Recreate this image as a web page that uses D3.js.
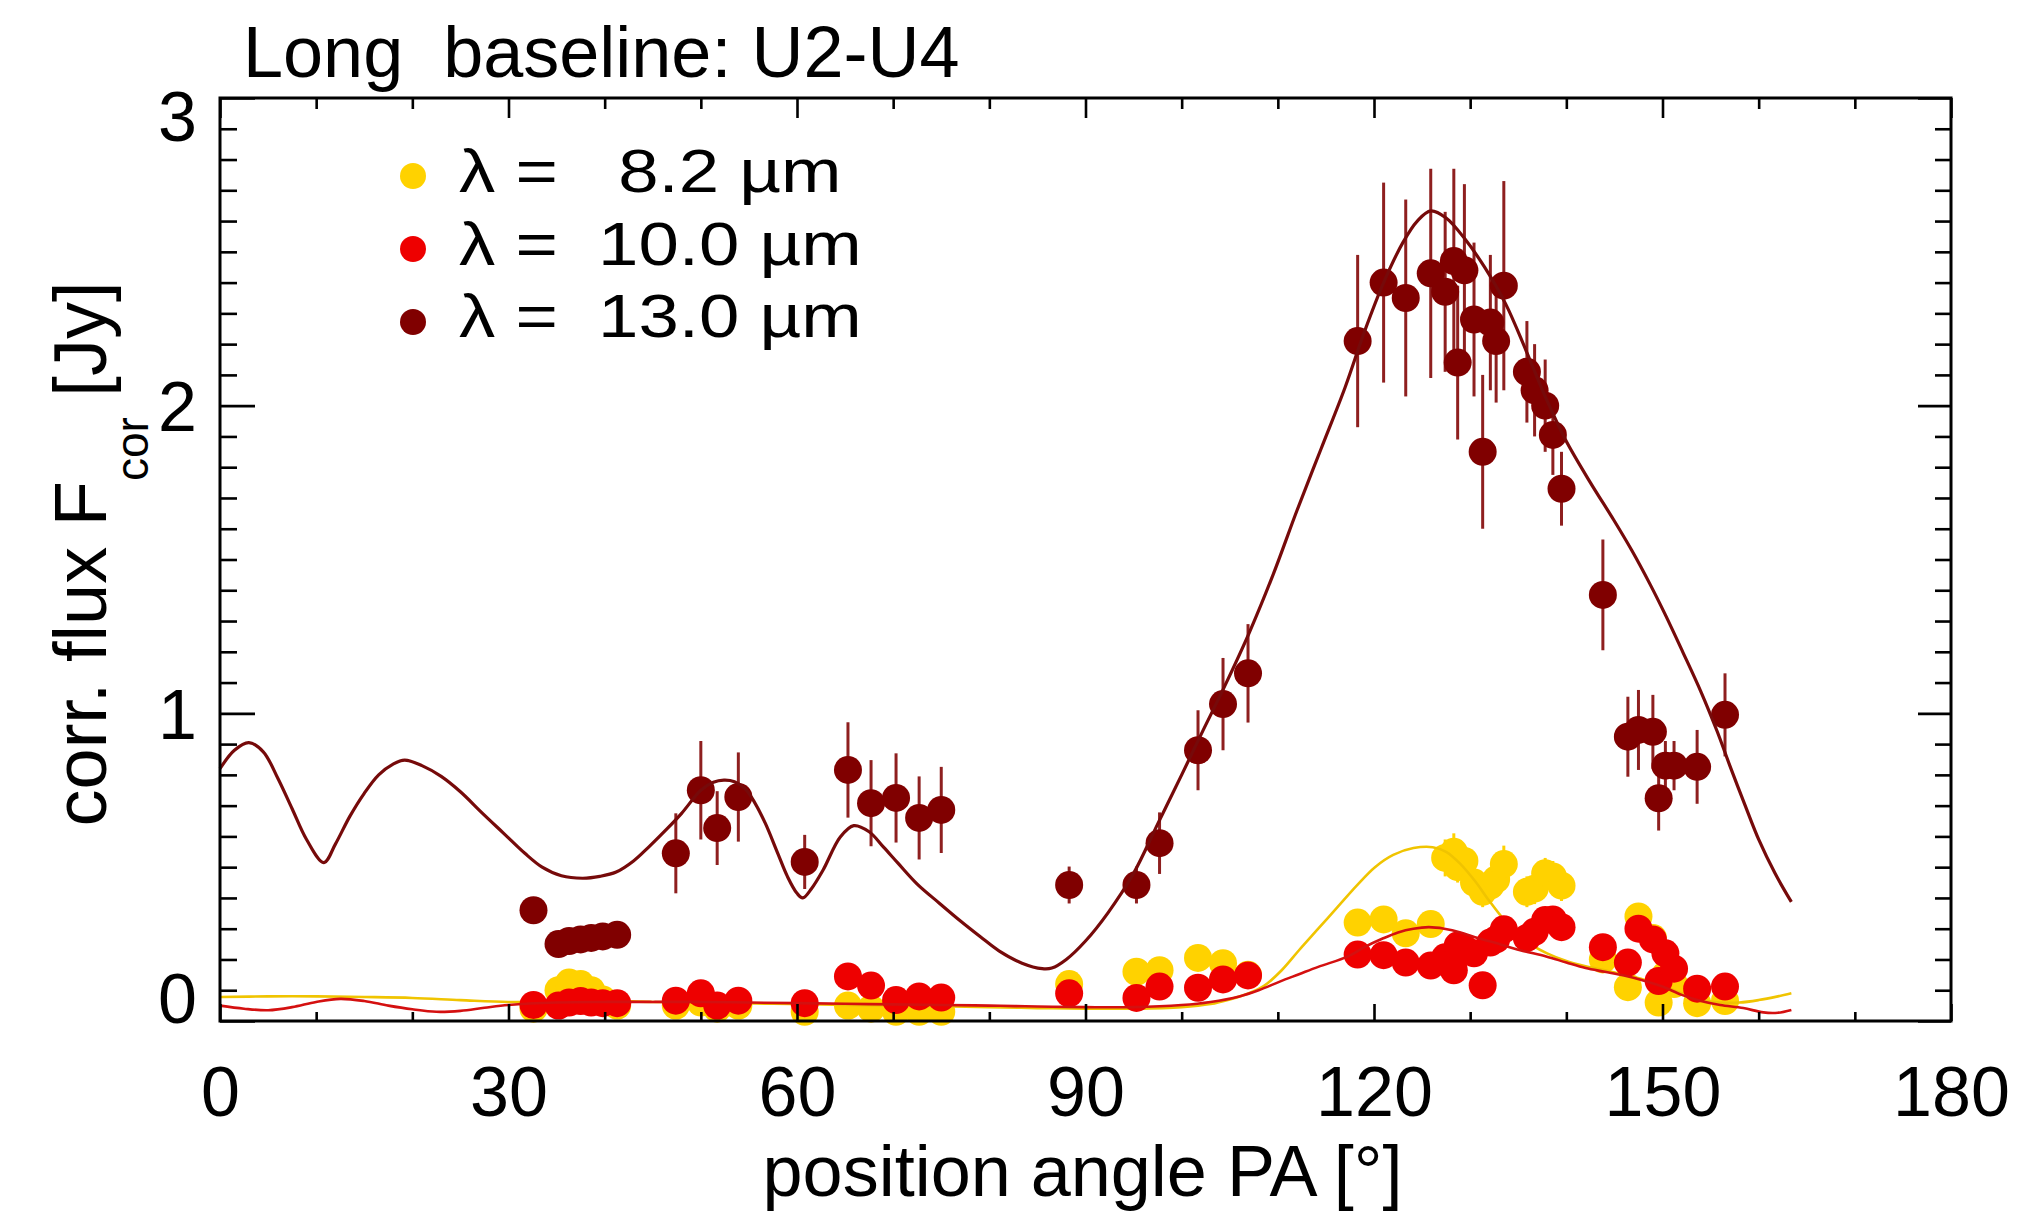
<!DOCTYPE html>
<html>
<head>
<meta charset="utf-8">
<script src="https://cdn.jsdelivr.net/npm/d3@7"></script>
<style>
  html, body { margin: 0; padding: 0; background: #fff; }
  svg { display: block; font-family: "Liberation Sans", Arial, Helvetica, sans-serif; }
</style>
</head>
<body>
<svg id="chart" width="2043" height="1211"></svg>
<script>
// Observed position angles [deg] shared by the three wavelengths
const positionAngle = [32.6, 35.2, 36.3, 37.5, 38.6, 39.8, 41.3, 47.4, 50.0, 51.7, 53.9, 60.8, 65.3, 67.7, 70.3, 72.7, 75.0,
  88.3, 95.3, 97.7, 101.7, 104.3, 106.9, 118.3, 121.0, 123.3, 125.9, 127.4, 128.3, 128.7, 129.4, 130.4, 131.3, 132.1,
  132.7, 133.5, 135.9, 136.7, 137.8, 138.6, 139.5, 143.8, 146.4, 147.5, 149.0, 149.6, 150.3, 151.2, 153.6, 156.5];

// Correlated flux [Jy] and 1-sigma errors, 8.2 um
const flux82 = [0.04, 0.10, 0.125, 0.12, 0.10, 0.07, 0.05, 0.05, 0.06, 0.04, 0.05, 0.03, 0.05, 0.04, 0.03, 0.03, 0.03,
  0.12, 0.16, 0.165, 0.205, 0.188, 0.15, 0.32, 0.33, 0.285, 0.315, 0.53, 0.55, 0.50, 0.52, 0.45, 0.42, 0.44,
  0.46, 0.51, 0.42, 0.43, 0.48, 0.47, 0.44, 0.20, 0.11, 0.34, 0.27, 0.06, 0.15, 0.12, 0.058, 0.065];
const err82 = [0.02, 0.03, 0.03, 0.03, 0.02, 0.02, 0.02, 0.02, 0.02, 0.02, 0.02, 0.02, 0.02, 0.02, 0.02, 0.02, 0.02,
  0.025, 0.03, 0.03, 0.03, 0.03, 0.03, 0.04, 0.04, 0.04, 0.04, 0.06, 0.06, 0.05, 0.05, 0.05, 0.05, 0.05,
  0.05, 0.06, 0.05, 0.05, 0.05, 0.05, 0.05, 0.04, 0.03, 0.04, 0.04, 0.02, 0.03, 0.03, 0.02, 0.02];

// 10.0 um
const flux100 = [0.052, 0.05, 0.06, 0.065, 0.06, 0.058, 0.058, 0.066, 0.09, 0.05, 0.066, 0.058, 0.145, 0.115, 0.068, 0.08, 0.076,
  0.09, 0.075, 0.112, 0.108, 0.135, 0.148, 0.216, 0.214, 0.19, 0.18, 0.207, 0.165, 0.245, 0.235, 0.22, 0.116, 0.255,
  0.265, 0.298, 0.27, 0.29, 0.328, 0.33, 0.305, 0.24, 0.19, 0.30, 0.265, 0.13, 0.22, 0.17, 0.105, 0.112];
const err100 = [0.02, 0.02, 0.02, 0.02, 0.02, 0.02, 0.02, 0.02, 0.025, 0.02, 0.02, 0.02, 0.03, 0.025, 0.02, 0.02, 0.02,
  0.02, 0.02, 0.025, 0.025, 0.025, 0.025, 0.03, 0.03, 0.03, 0.03, 0.03, 0.03, 0.03, 0.03, 0.03, 0.03, 0.03,
  0.03, 0.03, 0.03, 0.03, 0.03, 0.03, 0.03, 0.03, 0.03, 0.03, 0.03, 0.025, 0.025, 0.025, 0.02, 0.02];

// 13.0 um
const flux130 = [0.36, 0.25, 0.26, 0.265, 0.27, 0.275, 0.28, 0.545, 0.75, 0.627, 0.728, 0.517, 0.816, 0.708, 0.725, 0.66, 0.686,
  0.442, 0.442, 0.578, 0.88, 1.03, 1.13, 2.21, 2.40, 2.35, 2.43, 2.37, 2.47, 2.14, 2.44, 2.28, 1.85, 2.27,
  2.21, 2.39, 2.11, 2.05, 2.00, 1.905, 1.73, 1.385, 0.924, 0.946, 0.94, 0.724, 0.83, 0.83, 0.826, 0.995];
const err130 = [0.02, 0.02, 0.02, 0.02, 0.02, 0.02, 0.02, 0.13, 0.16, 0.12, 0.145, 0.088, 0.155, 0.14, 0.145, 0.135, 0.14,
  0.06, 0.06, 0.1, 0.13, 0.15, 0.16, 0.28, 0.325, 0.32, 0.34, 0.26, 0.3, 0.25, 0.28, 0.25, 0.25, 0.22,
  0.2, 0.34, 0.165, 0.15, 0.15, 0.13, 0.12, 0.18, 0.13, 0.13, 0.12, 0.105, 0.08, 0.08, 0.12, 0.135];

// Model curves: [position angle, flux]
const model82 = [[0,0.078],[5,0.08],[10,0.08],[15,0.078],[20,0.075],[25,0.068],[30,0.062],[35,0.065],[40,0.066],
  [45,0.062],[50,0.06],[55,0.057],[60,0.055],[65,0.052],[70,0.05],[75,0.048],[80,0.045],[85,0.042],[90,0.04],
  [95,0.04],[100,0.045],[103,0.055],[105,0.07],[107,0.09],[108.6,0.115],[110.4,0.165],[112.2,0.23],[114.2,0.30],
  [116.2,0.37],[118.2,0.44],[120.1,0.50],[122,0.54],[124.1,0.562],[126.1,0.565],[127.5,0.55],[129,0.51],
  [130.5,0.455],[132,0.39],[133.5,0.33],[135,0.28],[136.5,0.245],[138,0.22],[140,0.195],[142,0.178],[144,0.165],
  [146,0.15],[148,0.135],[150,0.115],[152,0.09],[154,0.07],[156,0.06],[158,0.06],[160,0.068],[162,0.08],[163.4,0.09]];

const model100 = [[0,0.05],[2.5,0.04],[5,0.035],[7.5,0.045],[10,0.062],[12.5,0.072],[15,0.065],[17.5,0.05],[20,0.038],
  [22.5,0.03],[25,0.033],[27.5,0.043],[30,0.052],[35,0.06],[40,0.062],[45,0.062],[50,0.062],[55,0.06],[60,0.058],
  [65,0.056],[70,0.054],[75,0.052],[80,0.05],[85,0.047],[90,0.045],[95,0.045],[100,0.052],[103,0.062],[106,0.08],
  [108,0.1],[110.2,0.128],[112.2,0.152],[114.2,0.176],[117.3,0.21],[119,0.24],[120.9,0.268],[122.5,0.288],
  [124.1,0.30],[125.7,0.305],[127.3,0.30],[129,0.288],[130.5,0.272],[132.5,0.255],[135.2,0.23],[137.9,0.21],
  [140,0.19],[142,0.172],[144,0.16],[146,0.148],[148,0.132],[150,0.112],[152,0.085],[154,0.065],[156,0.052],
  [158.4,0.042],[160.5,0.028],[162,0.027],[163.4,0.036]];

const model130 = [[0,0.82],[1.5,0.88],[3,0.905],[4.5,0.875],[6,0.79],[7.5,0.69],[9,0.59],[10.8,0.515],[12,0.575],
  [13.5,0.665],[15,0.74],[16.5,0.8],[18,0.835],[19.2,0.848],[21,0.83],[23,0.795],[25,0.745],[27.3,0.675],
  [29.5,0.61],[31.7,0.545],[33.5,0.5],[35.5,0.472],[37.7,0.464],[39.5,0.47],[41.2,0.484],[43,0.52],[44.6,0.566],
  [46.5,0.625],[48,0.675],[50,0.75],[51.3,0.776],[52.4,0.783],[53.5,0.778],[54.6,0.755],[55.6,0.71],[56.7,0.643],
  [58,0.545],[59,0.47],[60,0.415],[60.6,0.4],[61.5,0.43],[62.7,0.49],[64.5,0.598],[65.9,0.635],[67.5,0.615],
  [69,0.565],[70.5,0.513],[72.5,0.445],[74.8,0.383],[77,0.325],[79.1,0.273],[81,0.228],[83.4,0.188],[85.5,0.17],
  [86.5,0.172],[88,0.2],[90,0.26],[92.3,0.35],[95,0.48],[97.5,0.64],[100,0.8],[102,0.93],[104.5,1.09],
  [107,1.26],[109.5,1.45],[112,1.66],[114.5,1.86],[117,2.06],[119,2.24],[121,2.4],[123,2.53],[124.5,2.6],
  [125.9,2.633],[127.5,2.61],[129.5,2.54],[131.5,2.45],[133.7,2.33],[135.8,2.18],[137.8,2.03],[139.9,1.89],
  [142.5,1.75],[144.9,1.63],[146.8,1.53],[148.7,1.42],[150.3,1.32],[152.1,1.2],[154,1.07],[155.7,0.94],
  [157,0.83],[158.6,0.7],[160,0.59],[161.7,0.48],[163.4,0.387]];

const xTickValues = [0, 30, 60, 90, 120, 150, 180];
const yTickValues = [0, 1, 2, 3];
const legendLabels = ["λ =   8.2 µm", "λ =  10.0 µm", "λ =  13.0 µm"];
const titleText = "Long  baseline: U2-U4";
const xLabelText = "position angle PA [°]";

// ---- layout ----
const W = 2043, H = 1211;
const box = { left: 220, right: 1951, top: 98, bottom: 1021 };
const FONT = 70;

const x = d3.scaleLinear().domain([0, 180]).range([box.left, box.right]);
const y = d3.scaleLinear().domain([0, 3]).range([box.bottom, box.top]);

const svg = d3.select("#chart");
svg.append("rect").attr("width", W).attr("height", H).attr("fill", "#fff");

const series = [
  { flux: flux82,  err: err82,  model: model82,  fill: "#ffd200", bar: "#ffd200", line: "#f0c400", lw: 2.6 },
  { flux: flux100, err: err100, model: model100, fill: "#ee0000", bar: "#ee0000", line: "#d41010", lw: 2.6 },
  { flux: flux130, err: err130, model: model130, fill: "#800000", bar: "#8e1f1f", line: "#760a0a", lw: 3.2 }
];

const line = d3.line()
  .x(d => x(d[0]))
  .y(d => y(d[1]))
  .curve(d3.curveCatmullRom.alpha(0.5));

// data points with error bars, then the model curve, per wavelength
series.forEach(s => {
  const g = svg.append("g");
  const pts = positionAngle.map((pa, i) => ({ pa, f: s.flux[i], e: s.err[i] }));
  g.selectAll("line.err").data(pts).join("line")
    .attr("class", "err")
    .attr("x1", d => x(d.pa)).attr("x2", d => x(d.pa))
    .attr("y1", d => y(d.f - d.e)).attr("y2", d => y(d.f + d.e))
    .attr("stroke", s.bar).attr("stroke-width", 3);
  g.selectAll("circle").data(pts).join("circle")
    .attr("cx", d => x(d.pa)).attr("cy", d => y(d.f))
    .attr("r", 14).attr("fill", s.fill);
  g.append("path").datum(s.model)
    .attr("d", line)
    .attr("fill", "none")
    .attr("stroke", s.line)
    .attr("stroke-width", s.lw)
    .attr("stroke-linejoin", "round");
});

// ---- axes: ticks on all four sides, pointing inward ----
function styleAxis(g) {
  g.select(".domain").remove();
  g.selectAll(".tick line").attr("stroke", "#000").attr("stroke-width", 2.6);
  g.selectAll(".tick text").attr("fill", "#000").attr("font-size", FONT)
    .attr("font-family", "Liberation Sans, Arial, Helvetica, sans-serif");
}

const xMinor = d3.range(10, 180, 10).filter(v => v % 30 !== 0);
const yMinor = d3.range(1, 30).filter(v => v % 10 !== 0).map(v => v / 10);

svg.append("g").attr("transform", `translate(0,${box.bottom})`)
  .call(d3.axisBottom(x).tickValues(xTickValues).tickSize(-17).tickPadding(45).tickFormat(d3.format("d")))
  .call(styleAxis);
svg.append("g").attr("transform", `translate(0,${box.bottom})`)
  .call(d3.axisBottom(x).tickValues(xMinor).tickSize(-9).tickFormat(""))
  .call(styleAxis);
svg.append("g").attr("transform", `translate(0,${box.top})`)
  .call(d3.axisTop(x).tickValues(xTickValues).tickSize(-20).tickFormat(""))
  .call(styleAxis);
svg.append("g").attr("transform", `translate(0,${box.top})`)
  .call(d3.axisTop(x).tickValues(xMinor).tickSize(-11).tickFormat(""))
  .call(styleAxis);

const yAxisG = svg.append("g").attr("transform", `translate(${box.left},0)`)
  .call(d3.axisLeft(y).tickValues(yTickValues).tickSize(-35).tickPadding(23).tickFormat(d3.format("d")))
  .call(styleAxis);
yAxisG.selectAll(".tick text")
  .attr("dy", d => d === 3 ? "0.61em" : d === 0 ? "0.02em" : "0.36em");
svg.append("g").attr("transform", `translate(${box.left},0)`)
  .call(d3.axisLeft(y).tickValues(yMinor).tickSize(-17).tickFormat(""))
  .call(styleAxis);
svg.append("g").attr("transform", `translate(${box.right},0)`)
  .call(d3.axisRight(y).tickValues(yTickValues).tickSize(-33).tickFormat(""))
  .call(styleAxis);
svg.append("g").attr("transform", `translate(${box.right},0)`)
  .call(d3.axisRight(y).tickValues(yMinor).tickSize(-16).tickFormat(""))
  .call(styleAxis);

// plot frame
svg.append("rect")
  .attr("x", box.left).attr("y", box.top)
  .attr("width", box.right - box.left).attr("height", box.bottom - box.top)
  .attr("fill", "none").attr("stroke", "#000").attr("stroke-width", 3);

// ---- titles ----
svg.append("text")
  .attr("x", 243).attr("y", 77)
  .attr("font-size", 72).attr("fill", "#000")
  .style("white-space", "pre")
  .text(titleText);

svg.append("text")
  .attr("x", (box.left + box.right) / 2 - 3).attr("y", 1196)
  .attr("text-anchor", "middle")
  .attr("font-size", 72).attr("fill", "#000")
  .text(xLabelText);

const yLab = svg.append("text")
  .attr("transform", "translate(106,554) rotate(-90)")
  .attr("text-anchor", "middle")
  .attr("font-size", 74).attr("fill", "#000");
yLab.append("tspan").text("corr. flux F");
yLab.append("tspan").attr("font-size", 46).attr("dy", 42).text("cor");
yLab.append("tspan").attr("dy", -42).text(" [Jy]");

// ---- legend ----
const legend = svg.append("g");
series.forEach((s, i) => {
  legend.append("circle")
    .attr("cx", 413).attr("cy", 176 + i * 73)
    .attr("r", 13).attr("fill", s.fill);
  legend.append("text")
    .attr("transform", `translate(459,${192 + i * 72.5}) scale(1.17,1)`)
    .attr("font-size", 62).attr("fill", "#000")
    .style("white-space", "pre")
    .text(legendLabels[i]);
});
</script>
</body>
</html>
